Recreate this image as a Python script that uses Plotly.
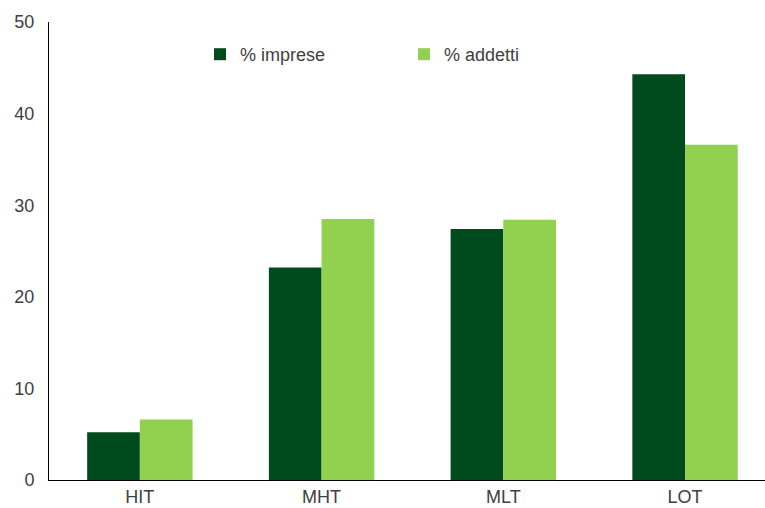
import plotly.graph_objects as go

# Share of firms and employees by technology intensity class
categories = ["HIT", "MHT", "MLT", "LOT"]
imprese = [5.2, 23.2, 27.4, 44.3]
addetti = [6.6, 28.5, 28.4, 36.6]
y_ticks = [0, 10, 20, 30, 40, 50]

DARK = "#004B1E"
LIGHT = "#92D050"
FONT = dict(family="Liberation Sans, Arial, sans-serif", size=18, color="#404040")

fig = go.Figure()
fig.add_trace(go.Bar(x=categories, y=imprese, name="% imprese",
                     marker=dict(color=DARK, line=dict(width=0))))
fig.add_trace(go.Bar(x=categories, y=addetti, name="% addetti",
                     marker=dict(color=LIGHT, line=dict(width=0))))

fig.update_layout(
    width=765, height=508,
    margin=dict(l=49, r=0, t=22, b=28),
    paper_bgcolor="white", plot_bgcolor="white",
    font=FONT,
    barmode="group", bargap=0.42, bargroupgap=0,
    legend=dict(orientation="h", x=(200 - 49) / 716, xanchor="left",
                y=(480 - 36) / 458, yanchor="top",
                entrywidth=159, entrywidthmode="pixels",
                itemwidth=30, bgcolor="rgba(0,0,0,0)",
                font=FONT),
    xaxis=dict(range=[-0.5, 3.44], showline=True, linecolor="black",
               linewidth=1, ticks="", showgrid=False, zeroline=False,
               tickfont=FONT),
    yaxis=dict(range=[0, 50], tickvals=y_ticks, showline=True,
               linecolor="black", linewidth=1, ticks="", showgrid=False,
               zeroline=False, tickfont=FONT, ticklabelstandoff=10),
)

fig.write_html("out.html")
